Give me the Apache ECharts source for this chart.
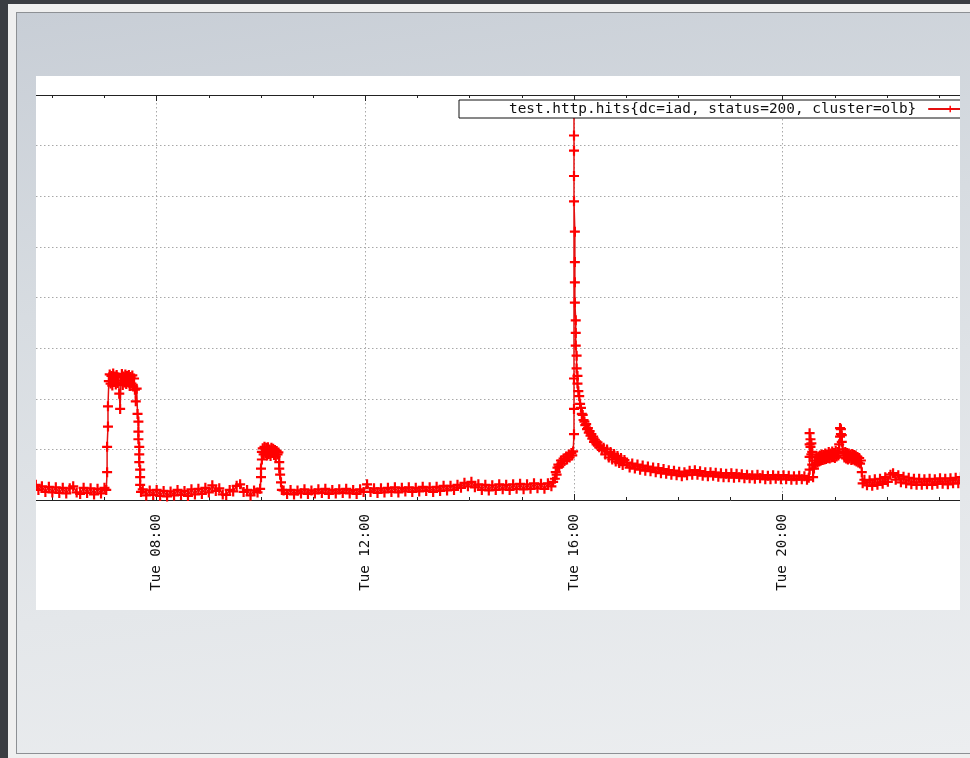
<!DOCTYPE html>
<html>
<head>
<meta charset="utf-8">
<script src="https://cdn.jsdelivr.net/npm/echarts@6/dist/echarts.min.js"></script>
<style>
  html, body { margin: 0; padding: 0; width: 970px; height: 758px; overflow: hidden; background: #3a3d42; }
  #strip { position: absolute; left: 8px; top: 4px; width: 962px; height: 754px; background: #efefef; }
  #slide { position: absolute; left: 16px; top: 12px; width: 954px; height: 740px;
           border-top: 1px solid #8d9094; border-left: 1px solid #8d9094; border-bottom: 1px solid #8d9094;
           background: linear-gradient(172deg, #c8ced6 0%, #d7dce1 35%, #e4e7ea 70%, #eceef0 100%); }
  #paper { position: absolute; left: 36px; top: 76px; width: 924px; height: 534px; background: #fff; overflow: hidden; }
  #chart { position: absolute; left: -88px; top: 0; width: 1100px; height: 534px; }
</style>
</head>
<body>
<div id="strip"></div>
<div id="slide"></div>
<div id="paper"><div id="chart"></div></div>
<script>
// ---- data: [time, hits] ----
const seriesName = 'test.http.hits{dc=iad, status=200, cluster=olb}';
const dayLabel = 'Tue';

const earlyMorning = [
  ['05:41',0.30],['05:44',0.20],['05:48',0.27],['05:52',0.16],['05:56',0.26],['06:00',0.15],['06:04',0.25],['06:08',0.14],
  ['06:12',0.24],['06:16',0.13],['06:20',0.23],['06:24',0.27],['06:28',0.15],['06:32',0.12],['06:36',0.24],['06:40',0.14],
  ['06:44',0.23],['06:48',0.11],['06:52',0.22],['06:56',0.13],['07:00',0.24],['07:02',0.20]
];
const morningPlateau = [
  ['07:03',0.55],['07:03',1.05],['07:04',1.45],['07:04',1.85],
  ['07:05',2.35],['07:06',2.48],['07:07',2.30],['07:08',2.45],['07:09',2.26],['07:10',2.50],['07:11',2.33],['07:12',2.44],
  ['07:13',2.28],['07:14',2.47],['07:15',2.31],['07:16',2.42],['07:17',2.10],['07:18',1.80],['07:19',2.36],['07:20',2.49],
  ['07:21',2.27],['07:22',2.44],['07:23',2.32],['07:24',2.48],['07:25',2.29],['07:26',2.45],['07:27',2.34],['07:28',2.47],
  ['07:29',2.25],['07:30',2.43],['07:31',2.30],['07:32',2.46],['07:33',2.24],['07:34',2.40],['07:35',2.18],['07:36',1.95],
  ['07:37',2.20],['07:38',1.70],['07:39',1.55],['07:39',1.35],['07:39',1.20],['07:40',1.05],['07:40',0.90],['07:40',0.75],
  ['07:41',0.60],['07:41',0.45],['07:41',0.30],['07:42',0.16]
];
const lateMorning = [
  ['07:44',0.21],['07:48',0.09],['07:52',0.19],['07:56',0.10],['08:00',0.20],['08:04',0.08],['08:08',0.18],['08:12',0.07],
  ['08:16',0.17],['08:20',0.09],['08:24',0.20],['08:28',0.10],['08:32',0.18],['08:36',0.08],['08:40',0.21],['08:44',0.11],
  ['08:48',0.22],['08:52',0.12],['08:56',0.24],['09:00',0.15],['09:04',0.29],['09:08',0.18],['09:12',0.23],['09:16',0.11],
  ['09:20',0.10],['09:24',0.20],['09:28',0.17],['09:32',0.28],['09:36',0.31],['09:40',0.16],['09:44',0.20],['09:48',0.09],
  ['09:52',0.19],['09:56',0.15],['09:59',0.22]
];
const tenOClockBump = [
  ['10:00',0.45],['10:00',0.62],['10:01',0.80],['10:01',0.95],['10:02',1.02],['10:03',0.90],['10:04',1.05],['10:05',0.92],
  ['10:06',1.03],['10:07',0.88],['10:08',1.04],['10:09',0.91],['10:10',1.00],['10:11',0.87],['10:12',1.03],['10:13',0.93],
  ['10:14',1.01],['10:15',0.89],['10:16',0.99],['10:17',0.86],['10:18',0.97],['10:19',0.90],['10:20',0.94],['10:21',0.75],
  ['10:21',0.62],['10:22',0.50],['10:23',0.35],['10:24',0.20]
];
const midday = [
  ['10:26',0.19],['10:30',0.12],['10:34',0.20],['10:38',0.11],['10:42',0.19],['10:46',0.13],['10:50',0.21],['10:54',0.12],
  ['10:58',0.19],['11:02',0.13],['11:06',0.21],['11:10',0.14],['11:14',0.22],['11:18',0.12],['11:22',0.20],['11:26',0.13],
  ['11:30',0.21],['11:34',0.14],['11:38',0.22],['11:42',0.13],['11:46',0.20],['11:50',0.12],['11:54',0.21],['11:58',0.16],
  ['12:02',0.31],['12:06',0.16],['12:10',0.23],['12:14',0.14],['12:18',0.23],['12:22',0.15],['12:26',0.24],['12:30',0.16],
  ['12:34',0.25],['12:38',0.15],['12:42',0.24],['12:46',0.17],['12:50',0.25],['12:54',0.16],['12:58',0.24],['13:02',0.17],
  ['13:06',0.26],['13:10',0.18],['13:14',0.25],['13:18',0.16],['13:22',0.26],['13:26',0.18],['13:30',0.28],['13:34',0.19],
  ['13:38',0.28],['13:42',0.20],['13:46',0.30],['13:50',0.24],['13:54',0.34],['13:58',0.27],['14:02',0.36],['14:06',0.25],
  ['14:10',0.31],['14:14',0.20],['14:18',0.30],['14:22',0.19],['14:26',0.29],['14:30',0.20],['14:34',0.31],['14:38',0.21],
  ['14:42',0.30],['14:46',0.20],['14:50',0.31],['14:54',0.22],['14:58',0.32],['15:02',0.21],['15:06',0.31],['15:10',0.22],
  ['15:14',0.33],['15:18',0.23],['15:22',0.32],['15:26',0.22],['15:30',0.33],['15:34',0.27],['15:36',0.36]
];
const preSpike = [
  ['15:38',0.42],['15:39',0.55],['15:40',0.50],['15:41',0.64],['15:42',0.70],['15:43',0.66],['15:45',0.78],['15:46',0.72],
  ['15:48',0.82],['15:49',0.77],['15:51',0.86],['15:52',0.80],['15:54',0.90],['15:55',0.84],['15:57',0.93],['15:58',0.88],
  ['15:59',0.96]
];
const spikeAndDecay = [
  ['16:00',1.30],['16:00',1.80],['16:00',2.40],['16:00',7.64],['16:00',7.20],['16:00',6.90],['16:00',6.40],['16:00',5.90],
  ['16:01',5.30],['16:01',4.70],['16:01',4.30],['16:01',3.90],['16:02',3.55],['16:02',3.30],['16:02',3.05],['16:03',2.85],
  ['16:03',2.60],['16:04',2.45],['16:04',2.30],['16:05',2.15],['16:06',2.05],['16:07',1.90],['16:08',1.82],['16:09',1.70],
  ['16:10',1.68],['16:11',1.58],['16:12',1.55],['16:13',1.48],['16:14',1.50],['16:15',1.40],['16:16',1.42],['16:17',1.33],
  ['16:18',1.36],['16:19',1.27],['16:20',1.30],['16:21',1.21],['16:22',1.25],['16:23',1.15],['16:24',1.19],['16:26',1.10],
  ['16:27',1.14],['16:29',1.04],['16:30',1.08],['16:32',0.99],['16:34',1.03],['16:36',0.90],['16:38',1.00],['16:40',0.84],
  ['16:42',0.95],['16:44',0.80],['16:46',0.91],['16:48',0.76],['16:50',0.87],['16:52',0.73],['16:54',0.83],['16:56',0.69],
  ['16:58',0.79]
];
const evening = [
  ['17:01',0.74],['17:04',0.64],['17:07',0.72],['17:10',0.62],['17:13',0.70],['17:16',0.60],['17:19',0.68],['17:22',0.58],
  ['17:25',0.66],['17:28',0.57],['17:31',0.64],['17:34',0.55],['17:37',0.63],['17:40',0.53],['17:43',0.61],['17:46',0.52],
  ['17:49',0.59],['17:52',0.50],['17:55',0.58],['17:58',0.49],['18:01',0.56],['18:04',0.47],['18:07',0.55],['18:10',0.49],
  ['18:13',0.58],['18:16',0.50],['18:19',0.59],['18:22',0.50],['18:25',0.57],['18:28',0.48],['18:31',0.55],['18:34',0.47],
  ['18:37',0.55],['18:40',0.48],['18:43',0.54],['18:46',0.46],['18:49',0.53],['18:52',0.45],['18:55',0.52],['18:58',0.45],
  ['19:01',0.53],['19:04',0.44],['19:07',0.52],['19:10',0.45],['19:13',0.51],['19:16',0.43],['19:19',0.50],['19:22',0.43],
  ['19:25',0.49],['19:28',0.42],['19:31',0.50],['19:34',0.43],['19:37',0.49],['19:40',0.41],['19:43',0.48],['19:46',0.41],
  ['19:49',0.49],['19:52',0.42],['19:55',0.48],['19:58',0.41],['20:01',0.49],['20:04',0.41],['20:07',0.48],['20:10',0.40],
  ['20:13',0.47],['20:16',0.40],['20:19',0.48],['20:22',0.41],['20:25',0.47],['20:28',0.40],['20:30',0.44]
];
const nightBump = [
  ['20:31',0.60],['20:31',0.85],['20:31',1.10],['20:31',1.32],['20:32',1.20],['20:32',1.05],['20:33',0.90],['20:33',1.12],
  ['20:34',0.95],['20:34',0.70],['20:35',0.45],['20:36',0.62],['20:37',0.78],['20:38',0.70],['20:39',0.84],['20:40',0.74],
  ['20:41',0.86],['20:42',0.76],['20:43',0.88],['20:44',0.78],['20:45',0.90],['20:46',0.79],['20:47',0.89],['20:48',0.80],
  ['20:49',0.92],['20:50',0.81],['20:51',0.90],['20:52',0.83],['20:53',0.95],['20:54',0.82],['20:55',0.92],['20:56',0.84],
  ['20:57',0.96],['20:58',0.85],['20:59',0.93],['21:00',0.83],['21:01',0.97],['21:02',0.86],['21:03',0.95],['21:04',0.88],
  ['21:05',1.10],['21:06',1.25],['21:06',1.42],['21:07',1.30],['21:07',1.40],['21:08',1.15],['21:08',1.28],['21:09',1.00],
  ['21:10',0.92],['21:11',0.84],['21:12',0.95],['21:13',0.82],['21:14',0.93],['21:15',0.80],['21:16',0.92],['21:17',0.82],
  ['21:18',0.90],['21:19',0.79],['21:20',0.91],['21:21',0.80],['21:22',0.89],['21:23',0.78],['21:24',0.88],['21:25',0.76],
  ['21:26',0.85],['21:27',0.74],['21:28',0.83],['21:29',0.72],['21:30',0.78],['21:31',0.55],['21:32',0.33]
];
const lateNight = [
  ['21:34',0.40],['21:37',0.29],['21:40',0.39],['21:43',0.28],['21:46',0.41],['21:49',0.30],['21:52',0.42],['21:55',0.32],
  ['21:58',0.45],['22:01',0.36],['22:04',0.50],['22:07',0.53],['22:10',0.40],['22:13',0.49],['22:16',0.35],['22:19',0.46],
  ['22:22',0.33],['22:25',0.44],['22:28',0.31],['22:31',0.42],['22:34',0.30],['22:37',0.42],['22:40',0.30],['22:43',0.41],
  ['22:46',0.31],['22:49',0.42],['22:52',0.30],['22:55',0.41],['22:58',0.32],['23:01',0.43],['23:04',0.32],['23:07',0.42],
  ['23:10',0.31],['23:13',0.43],['23:16',0.33],['23:19',0.44],['23:22',0.33],['23:25',0.45],['23:28',0.34],['23:31',0.42]
];

// ---- build ----
function toHours(t) { const p = t.split(':'); return (+p[0]) + (+p[1]) / 60; }
const points = [].concat(earlyMorning, morningPlateau, lateMorning, tenOClockBump, midday,
                         preSpike, spikeAndDecay, evening, nightBump, lateNight)
                 .map(d => [toHours(d[0]), d[1]]);
function pad(n) { return (n < 10 ? '0' : '') + n; }

const plusSymbol = 'path://M3.9,0 H6.1 V3.9 H10 V6.1 H6.1 V10 H3.9 V6.1 H0 V3.9 H3.9 Z';
const mono = 'DejaVu Sans Mono';
const gridLine = { color: '#a8a8a8', width: 1, type: [1.5, 2.5] };

const chart = echarts.init(document.getElementById('chart'), null, { renderer: 'canvas' });
chart.setOption({
  animation: false,
  backgroundColor: 'transparent',
  grid: { left: 0, top: 19, width: 1043.33, height: 405 },
  legend: {
    data: [seriesName],
    left: 511, top: 24,
    align: 'right',
    orient: 'horizontal',
    backgroundColor: '#fff',
    borderColor: '#111',
    borderWidth: 1,
    borderRadius: 0,
    padding: [2, 40, 2, 50],
    itemWidth: 44,
    itemHeight: 8,
    textStyle: { fontFamily: mono, fontSize: 14.4, color: '#111', padding: [0, 7, 0, 0] },
    selectedMode: false
  },
  xAxis: [{
    type: 'value', position: 'bottom', min: 4, max: 24, interval: 4,
    axisLine: { show: true, onZero: false, lineStyle: { color: '#222', width: 1 } },
    axisTick: { show: true, inside: true, length: 6, lineStyle: { color: '#222' } },
    minorTick: { show: true, splitNumber: 4, length: 3, lineStyle: { color: '#222' } },
    axisLabel: {
      rotate: 90, margin: 14, showMinLabel: false, showMaxLabel: false,
      fontFamily: mono, fontSize: 14.2, color: '#111',
      formatter: v => dayLabel + ' ' + pad(v % 24) + ':00'
    },
    splitLine: { show: true, lineStyle: gridLine }
  }, {
    type: 'value', position: 'top', min: 4, max: 24, interval: 4,
    axisLine: { show: true, onZero: false, lineStyle: { color: '#222', width: 1 } },
    axisTick: { show: true, inside: true, length: 6, lineStyle: { color: '#222' } },
    minorTick: { show: true, splitNumber: 4, length: 3, lineStyle: { color: '#222' } },
    axisLabel: { show: false },
    splitLine: { show: false }
  }],
  yAxis: {
    type: 'value', min: 0, max: 8, interval: 1,
    axisLine: { show: false }, axisTick: { show: false }, axisLabel: { show: false },
    splitLine: { show: true, lineStyle: gridLine }
  },
  series: [{
    name: seriesName,
    type: 'line',
    xAxisIndex: 0,
    data: points,
    symbol: plusSymbol,
    symbolSize: 10,
    showAllSymbol: true,
    lineStyle: { color: '#e31010', width: 1.5 },
    itemStyle: { color: '#ff0000' },
    z: 3
  }]
});
</script>
</body>
</html>
